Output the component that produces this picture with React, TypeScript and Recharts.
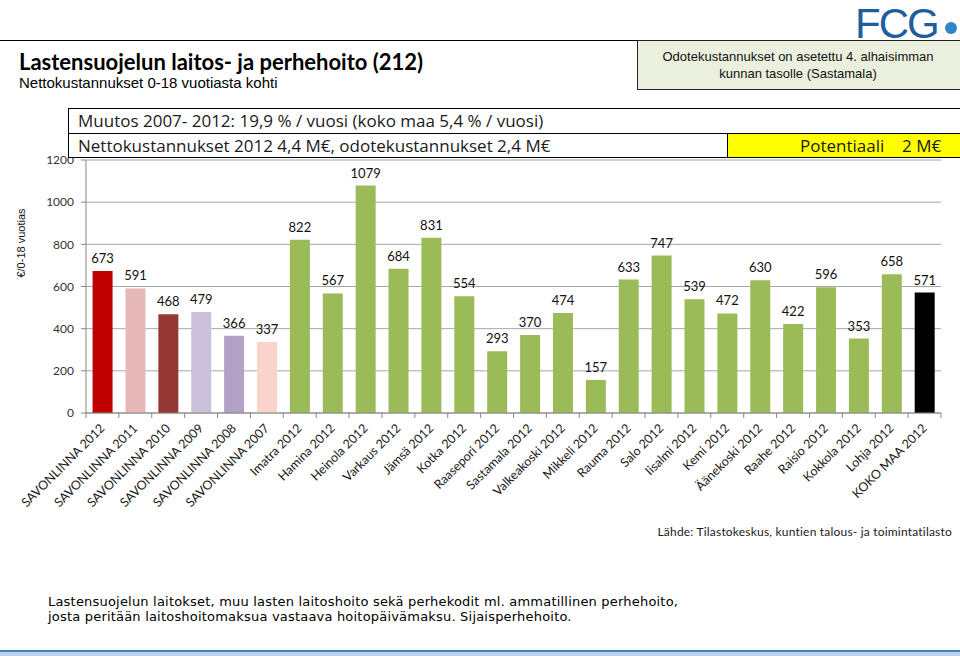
import { BarChart, Bar, XAxis, YAxis, CartesianGrid, Cell, LabelList } from "recharts"

const MUNICIPALITIES = [
  "SAVONLINNA 2012",
  "SAVONLINNA 2011",
  "SAVONLINNA 2010",
  "SAVONLINNA 2009",
  "SAVONLINNA 2008",
  "SAVONLINNA 2007",
  "Imatra 2012",
  "Hamina 2012",
  "Heinola 2012",
  "Varkaus 2012",
  "Jämsä 2012",
  "Kotka 2012",
  "Raasepori 2012",
  "Sastamala 2012",
  "Valkeakoski 2012",
  "Mikkeli 2012",
  "Rauma 2012",
  "Salo 2012",
  "Iisalmi 2012",
  "Kemi 2012",
  "Äänekoski 2012",
  "Raahe 2012",
  "Raisio 2012",
  "Kokkola 2012",
  "Lohja 2012",
  "KOKO MAA 2012",
]

const COSTS = [673, 591, 468, 479, 366, 337, 822, 567, 1079, 684, 831, 554, 293, 370, 474, 157, 633, 747, 539, 472, 630, 422, 596, 353, 658, 571]

const Y_TICKS = [0, 200, 400, 600, 800, 1000, 1200]

const DATA = MUNICIPALITIES.map((name, i) => ({ name, cost: COSTS[i] }))

// savonlinna years get their own colours, others green, whole country black
const SAVONLINNA_COLORS = ["#C00000", "#E6B9B8", "#953735", "#CCC1DA", "#B3A2C7", "#FAD3CB"]
const GREEN = "#9BBB59"

const barColor = (i: number) => {
  if (i < SAVONLINNA_COLORS.length) return SAVONLINNA_COLORS[i]
  if (i === DATA.length - 1) return "#000000"
  return GREEN
}

const PLOT_LEFT = 86
const PLOT_RIGHT = 941
const BAND = (PLOT_RIGHT - PLOT_LEFT) / DATA.length
const LABEL_FONT = "Lato, 'Open Sans', sans-serif"
const BOX_FONT = "'Open Sans', Lato, sans-serif"

function CategoryTick(props: any) {
  const { x, y, payload, index } = props
  const axisY = y - 7
  const half = BAND / 2
  return (
    <g>
      <line x1={x - half} x2={x - half} y1={axisY} y2={axisY + 5} stroke="#868686" />
      {index === DATA.length - 1 && (
        <line x1={x + half} x2={x + half} y1={axisY} y2={axisY + 5} stroke="#868686" />
      )}
      <text
        transform={`translate(${x + 3},${y + 9}) rotate(-45)`}
        textAnchor="end"
        fontSize={12.5}
        fontFamily={LABEL_FONT}
        fill="#1a1a1a"
      >
        {payload.value}
      </text>
    </g>
  )
}

export default function App() {
  return (
    <div
      style={{
        position: "absolute",
        left: 0,
        top: 0,
        width: 960,
        height: 656,
        overflow: "hidden",
        background: "#fff",
        fontFamily: "'Liberation Sans', Arial, sans-serif",
      }}
    >
      <BarChart
        width={960}
        height={656}
        data={DATA}
        margin={{ top: 160, right: 960 - PLOT_RIGHT, left: PLOT_LEFT - 60, bottom: 133 }}
        barCategoryGap="20%"
      >
        <CartesianGrid vertical={false} stroke="#A6A6A6" />
        <XAxis
          dataKey="name"
          interval={0}
          height={110}
          tickSize={5}
          tickMargin={2}
          tickLine={false}
          axisLine={{ stroke: "#868686" }}
          tick={(p: any) => <CategoryTick {...p} />}
        />
        <YAxis
          width={60}
          domain={[0, 1200]}
          ticks={Y_TICKS}
          interval={0}
          tickSize={5}
          tickMargin={7}
          axisLine={{ stroke: "#868686" }}
          tickLine={{ stroke: "#868686" }}
          tick={{ fontSize: 12, fill: "#333", fontFamily: LABEL_FONT }}
        />
        <Bar dataKey="cost" isAnimationActive={false}>
          {DATA.map((d, i) => (
            <Cell key={d.name} fill={barColor(i)} />
          ))}
          <LabelList dataKey="cost" position="top" offset={8} fontSize={13} fill="#111" fontFamily={LABEL_FONT} />
        </Bar>
      </BarChart>

      {/* header */}
      <div style={{ position: "absolute", left: 0, top: 40, width: 640, borderTop: "1.5px solid #000" }} />
      <div style={{ position: "absolute", left: 19, top: 48, fontFamily: LABEL_FONT, fontWeight: 700, fontSize: 22, color: "#000", whiteSpace: "nowrap" }}>
        Lastensuojelun laitos- ja perhehoito (212)
      </div>
      <div style={{ position: "absolute", left: 19, top: 74, fontSize: 15, color: "#000", whiteSpace: "nowrap" }}>
        Nettokustannukset 0-18 vuotiasta kohti
      </div>

      <div
        style={{
          position: "absolute",
          left: 637,
          top: 40,
          width: 330,
          height: 50,
          background: "#EBF0DE",
          border: "1.5px solid #222",
          boxSizing: "border-box",
        }}
      />
      <div style={{ position: "absolute", left: 637, top: 48, width: 322, textAlign: "center", fontSize: 13, lineHeight: "17px", color: "#111" }}>
        Odotekustannukset on asetettu 4. alhaisimman
        <br />
        kunnan tasolle (Sastamala)
      </div>

      {/* FCG logo */}
      <div style={{ position: "absolute", left: 855, top: 0, fontFamily: "'Liberation Sans', sans-serif", fontSize: 42, color: "#1F5E9E", letterSpacing: -2 }}>
        FCG
      </div>
      <div style={{ position: "absolute", left: 945, top: 22, width: 12, height: 12, borderRadius: 6, background: "#2E86C8" }} />

      {/* info boxes */}
      <div
        style={{
          position: "absolute",
          left: 68,
          top: 108,
          width: 900,
          height: 50,
          border: "1.5px solid #000",
          boxSizing: "border-box",
          background: "#fff",
        }}
      />
      <div style={{ position: "absolute", left: 68, top: 133, width: 900, borderTop: "1.5px solid #000" }} />
      <div
        style={{
          position: "absolute",
          left: 727,
          top: 133,
          width: 240,
          height: 25,
          background: "#FFFF00",
          borderLeft: "1.5px solid #000",
          borderTop: "1.5px solid #000",
          borderBottom: "1.5px solid #000",
          boxSizing: "border-box",
        }}
      />
      <div style={{ position: "absolute", left: 78, top: 109, fontFamily: BOX_FONT, fontSize: 17, color: "#1a1a1a", whiteSpace: "nowrap" }}>
        Muutos 2007- 2012: 19,9 % / vuosi (koko maa 5,4 % / vuosi)
      </div>
      <div style={{ position: "absolute", left: 78, top: 134, fontFamily: BOX_FONT, fontSize: 17, color: "#1a1a1a", whiteSpace: "nowrap" }}>
        Nettokustannukset 2012 4,4 M€, odotekustannukset 2,4 M€
      </div>
      <div style={{ position: "absolute", left: 800, top: 134, fontFamily: BOX_FONT, fontSize: 17, color: "#1a1a1a", whiteSpace: "nowrap" }}>
        Potentiaali
      </div>
      <div style={{ position: "absolute", left: 902, top: 134, fontFamily: BOX_FONT, fontSize: 17, color: "#1a1a1a", whiteSpace: "nowrap" }}>
        2 M€
      </div>

      {/* y axis title */}
      <div
        style={{
          position: "absolute",
          left: 21,
          top: 243,
          transform: "translate(-50%, -50%) rotate(-90deg)",
          fontSize: 11,
          color: "#111",
          whiteSpace: "nowrap",
        }}
      >
        €/0-18 vuotias
      </div>

      {/* source */}
      <div style={{ position: "absolute", right: 8, top: 524, fontFamily: LABEL_FONT, fontSize: 12, color: "#1a1a1a", whiteSpace: "nowrap", letterSpacing: 0.2 }}>
        Lähde: Tilastokeskus, kuntien talous- ja toimintatilasto
      </div>

      {/* footnote */}
      <div style={{ position: "absolute", left: 48, top: 594, fontFamily: "'DejaVu Sans', Verdana, sans-serif", fontSize: 13, lineHeight: "15px", letterSpacing: 0.2, color: "#000", whiteSpace: "nowrap" }}>
        Lastensuojelun laitokset, muu lasten laitoshoito sekä perhekodit ml. ammatillinen perhehoito,
        <br />
        josta peritään laitoshoitomaksua vastaava hoitopäivämaksu. Sijaisperhehoito.
      </div>
      <div style={{ position: "absolute", left: 0, top: 650, width: 960, height: 2, background: "#4A7EBB" }} />
      <div style={{ position: "absolute", left: 0, top: 652, width: 960, height: 4, background: "#BCD3EE" }} />
    </div>
  )
}
